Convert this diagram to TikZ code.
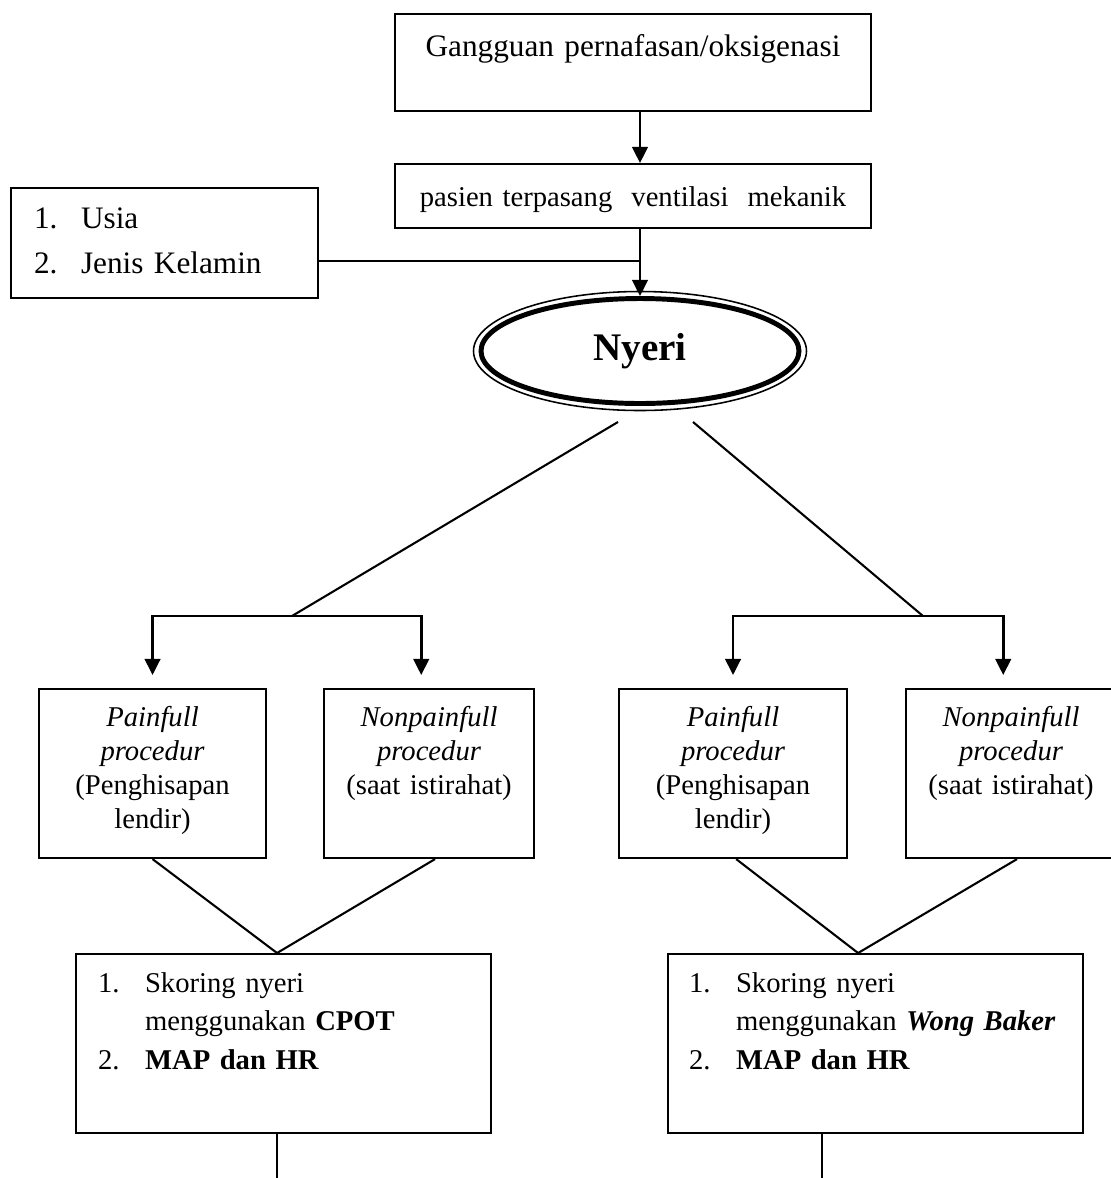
\documentclass[tikz,border=0pt]{standalone}
\usepackage{fontspec}
\setmainfont{Liberation Serif}
\usetikzlibrary{arrows.meta, shapes.geometric}
\newdimen\unitpx
\unitpx=0.384pt
\newcommand{\butir}[2]{\makebox[47\unitpx][l]{#1}\mbox{#2}}
\newcommand{\lanjut}[1]{\hspace*{47\unitpx}\mbox{#1}}

\begin{document}
\begin{tikzpicture}[x=0.384pt, y=-0.384pt,
    kotak/.style={draw, line width=0.8pt, anchor=north west, inner sep=0pt, align=center},
    daftar/.style={kotak, align=left},
    prosedur/.style={kotak, text height=37\unitpx, text depth=132\unitpx, font=\fontsize{11}{13.1}\selectfont},
    skor/.style={daftar, text height=38\unitpx, text depth=141\unitpx, font=\fontsize{11}{14.8}\selectfont},
    garis/.style={line width=0.8pt},
    panah/.style={line width=1pt, -{Triangle[length=6.2pt, width=6pt]}},
    panahdua/.style={line width=1pt, {Triangle[length=6.2pt, width=6pt]}-{Triangle[length=6.2pt, width=6pt]}}]
        \useasboundingbox (0,0) rectangle (1111,1178);
        % kotak atas
        \node[kotak, text width=476\unitpx, text height=42\unitpx, text depth=55\unitpx, font=\fontsize{12}{14}\selectfont] (gang) at (394,13) {Gangguan pernafasan/oksigenasi};
        \node[kotak, text width=476\unitpx, text height=42\unitpx, text depth=22\unitpx, font=\fontsize{11}{13}\selectfont] (vent) at (394,163) {pasien terpasang\ \ ventilasi\ \ mekanik};
        \node[daftar, inner xsep=23\unitpx, text width=261\unitpx, text height=40\unitpx, text depth=70\unitpx, font=\fontsize{12}{17.3}\selectfont] (umur) at (10,187) {\butir{1.}{Usia}\\\butir{2.}{Jenis Kelamin}};
        \node[ellipse, draw, line width=1.9pt, minimum width=318\unitpx, minimum height=105\unitpx, inner sep=0pt, font=\fontsize{15}{18}\selectfont\bfseries] (nyeri) at (640,351) {Nyeri};
        \draw[line width=0.6pt] (nyeri.center) ellipse [x radius=166.5, y radius=59.5];
        % prosedur
        \node[prosedur, text width=227\unitpx] (painL) at (38,688) {\textit{Painfull}\\\textit{procedur}\\(Penghisapan\\lendir)};
        \node[prosedur, text width=210\unitpx] (nonL) at (323,688) {\textit{Nonpainfull}\\\textit{procedur}\\(saat istirahat)};
        \node[prosedur, text width=228\unitpx] (painR) at (618,688) {\textit{Painfull}\\\textit{procedur}\\(Penghisapan\\lendir)};
        \node[prosedur, text width=210\unitpx] (nonR) at (905,688) {\textit{Nonpainfull}\\\textit{procedur}\\(saat istirahat)};
        % skoring
        \node[skor, inner xsep=22\unitpx, text width=371\unitpx] (skorL) at (75,953) {\butir{1.}{Skoring nyeri}\\\lanjut{menggunakan \textbf{CPOT}}\\\butir{2.}{\textbf{MAP dan HR}}};
        \node[skor, inner xsep=21\unitpx, text width=373\unitpx] (skorR) at (667,953) {\butir{1.}{Skoring nyeri}\\\lanjut{menggunakan \textbf{\textit{Wong Baker}}}\\\butir{2.}{\textbf{MAP dan HR}}};
        % garis
        \draw[panah] (gang.south -| nyeri.north) -- (vent.north -| nyeri.north);
        \draw[panah] (vent.south -| nyeri.north) -- (nyeri.north);
        \coordinate (temu) at (640,261);
        \draw[garis] (temu -| umur.east) -- (temu);
        \coordinate (cabangL) at (292,616);
        \coordinate (cabangR) at (923,616);
        \draw[garis] ([shift={(-22,16)}]nyeri.south) -- (cabangL);
        \draw[garis] ([shift={(53,16)}]nyeri.south) -- (cabangR);
        \draw[panahdua] ([yshift=5pt]painL.north) |- (cabangL) -| ([xshift=-3pt,yshift=5pt]nonL.north);
        \draw[panahdua] ([yshift=5pt]painR.north) |- (cabangR) -| ([xshift=-3pt,yshift=5pt]nonR.north);
        \coordinate (puncakL) at ([xshift=-2.5pt]skorL.north);
        \coordinate (puncakR) at ([xshift=-6.7pt]skorR.north);
        \draw[garis] (painL.south) -- (puncakL) -- ([xshift=2.3pt]nonL.south);
        \draw[garis] ([xshift=1.2pt]painR.south) -- (puncakR) -- ([xshift=2.3pt]nonR.south);
        \draw[garis] (puncakL |- skorL.south) -- ++(0,60);
        \draw[garis] ([xshift=-20.5pt]skorR.south) -- ++(0,60);
\end{tikzpicture}
\end{document}
